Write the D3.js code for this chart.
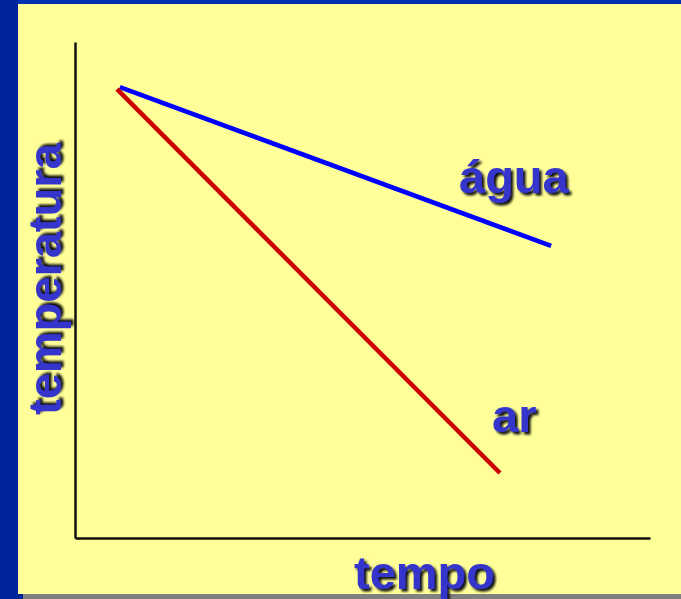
<!DOCTYPE html>
<html>
<head>
<meta charset="utf-8">
<script src="https://cdn.jsdelivr.net/npm/d3@7"></script>
<style>
  html, body { margin: 0; padding: 0; background: #0026a0; }
  svg { display: block; }
  .lbl { font-family: "Liberation Sans", Arial, sans-serif; font-weight: bold; font-size: 47px; fill: #3535cc; }
</style>
</head>
<body>
<div id="chart"></div>
<script>
// cooling curves: temperature vs time, water cools slower than air
var seriesNames = ["água", "ar"];
var seriesColors = ["#0000ff", "#cc0000"];
var timeValues = [[0.78, 8.28], [0.73, 7.39]];
var tempValues = [[9.09, 5.89], [9.05, 1.31]];
var axisLabels = { x: "tempo", y: "temperatura" };

var W = 681, H = 599;
var svg = d3.select("#chart").append("svg").attr("width", W).attr("height", H);

var defs = svg.append("defs");
var f = defs.append("filter").attr("id", "shadow")
  .attr("x", "-10%").attr("y", "-10%").attr("width", "130%").attr("height", "130%");
f.append("feDropShadow").attr("dx", 2.5).attr("dy", 2.5).attr("stdDeviation", 1)
  .attr("flood-color", "#111108").attr("flood-opacity", 1);

// slide frame
svg.append("rect").attr("width", W).attr("height", H).attr("fill", "#00249a");
svg.append("rect").attr("x", 18).attr("width", W - 18).attr("height", 4).attr("fill", "#0030b4");
svg.append("rect").attr("x", 18).attr("y", 4).attr("width", W - 18).attr("height", 590).attr("fill", "#ffff99");
svg.append("rect").attr("x", 23).attr("y", 594).attr("width", W - 23).attr("height", 5).attr("fill", "#808080");

var x = d3.scaleLinear().domain([0, 10]).range([75, 650]);
var y = d3.scaleLinear().domain([0, 10]).range([538, 42]);

var axStyle = function (g) {
  g.select(".domain").attr("stroke", "#111").attr("stroke-width", 2.5);
};
svg.append("g").attr("transform", "translate(0," + y(0) + ")")
  .call(d3.axisBottom(x).ticks(0).tickSizeOuter(0)).call(axStyle);
svg.append("g").attr("transform", "translate(" + x(0) + ",0)")
  .call(d3.axisLeft(y).ticks(0).tickSizeOuter(0)).call(axStyle);

var line = d3.line().x(function (d) { return x(d[0]); }).y(function (d) { return y(d[1]); });
seriesNames.forEach(function (name, i) {
  var pts = timeValues[i].map(function (t, j) { return [t, tempValues[i][j]]; });
  svg.append("path").datum(pts).attr("d", line)
    .attr("fill", "none").attr("stroke", seriesColors[i]).attr("stroke-width", 4.5);
});

// series labels
svg.append("text").attr("class", "lbl").attr("filter", "url(#shadow)")
  .attr("x", 459).attr("y", 193).text(seriesNames[0]);
svg.append("text").attr("class", "lbl").attr("filter", "url(#shadow)")
  .attr("x", 492).attr("y", 432).text(seriesNames[1]);

// axis titles
svg.append("text").attr("class", "lbl").attr("filter", "url(#shadow)")
  .attr("x", 354).attr("y", 589).text(axisLabels.x);
svg.append("text").attr("class", "lbl").attr("filter", "url(#shadow)")
  .attr("transform", "translate(61,415) rotate(-90)").text(axisLabels.y);
</script>
</body>
</html>
